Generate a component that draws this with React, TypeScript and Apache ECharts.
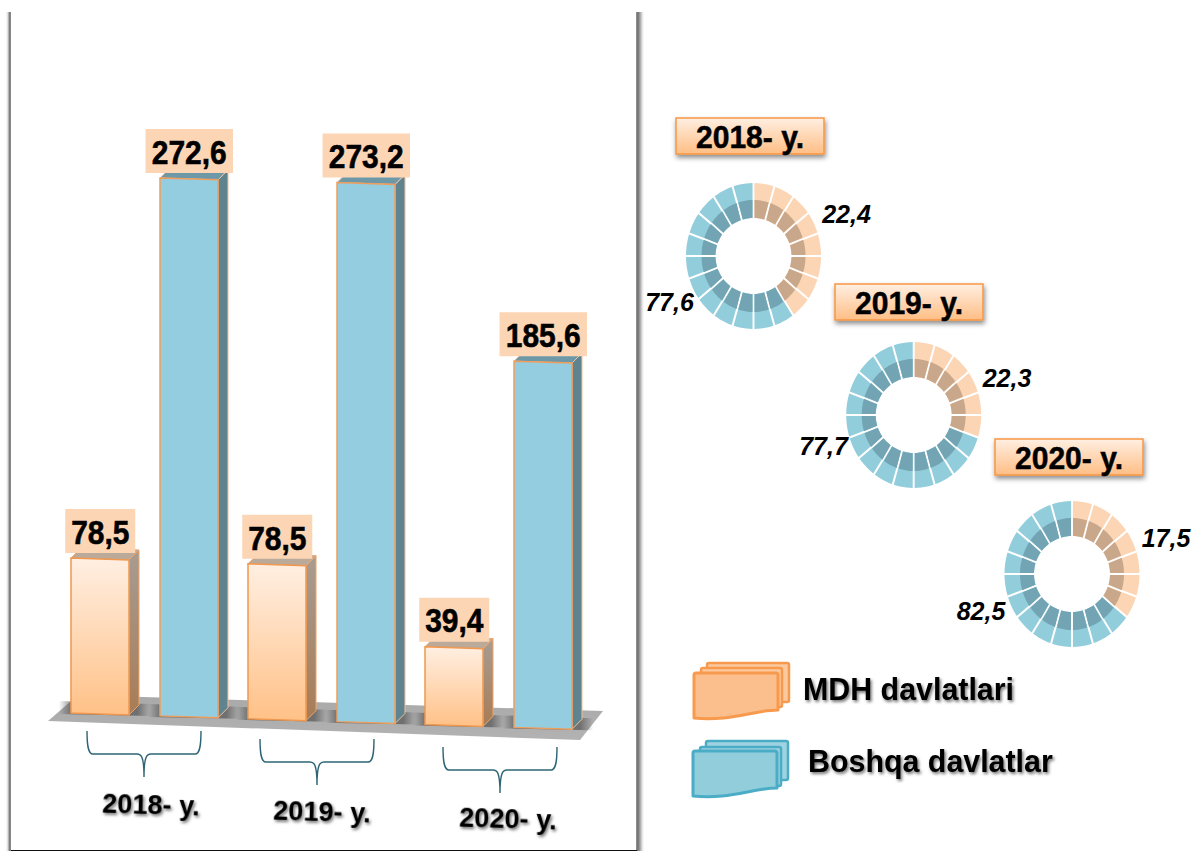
import React, { useEffect, useRef } from "react";
import * as echarts from "echarts";

const years = ["2018- y.", "2019- y.", "2020- y."];
const mdhName = "MDH davlatlari";
const otherName = "Boshqa davlatlar";
const mdhValues = [78.5, 78.5, 39.4];
const otherValues = [272.6, 273.2, 185.6];
const mdhShares = [22.4, 22.3, 17.5];
const otherShares = [77.6, 77.7, 82.5];
const mdhCells = [8, 6, 7];
const totalCells = 20;

const FONT = '"Liberation Sans", Arial, sans-serif';
const comma = (v: number) => v.toFixed(1).replace(".", ",");
const vGrad = (a: string, b: string) =>
  new echarts.graphic.LinearGradient(0, 0, 0, 1, [
    { offset: 0, color: a },
    { offset: 1, color: b },
  ]);
const hGrad = (stops: [number, string][]) =>
  new echarts.graphic.LinearGradient(
    0,
    0,
    1,
    0,
    stops.map(([offset, color]) => ({ offset, color }))
  );

echarts.graphic.registerShape(
  "docFront",
  echarts.graphic.extendPath("M2 0 H82 Q84 0 84 2 V37 C60 37 35 49 0 45 V2 Q0 0 2 0 Z" as any, {}) as any
);
echarts.graphic.registerShape(
  "bracket",
  echarts.graphic.extendPath(
    "M0 0 C0 14 1 23 6 23 H50 C54 23 57 25 57 46 C57 25 60 23 64 23 H108 C113 23 114 14 114 0" as any,
    {}
  ) as any
);

const BAR_W = 58;
const GROUP_OFFSET = 44.5;
const DEPTH = 10;
const SLOPE = 0.0325;
const BASE_X = 71;

const barStyles = {
  mdh: {
    front: () => vGrad("#FFEFE2", "#FFC187"),
    side: () => vGrad("#A89C92", "#A87C56"),
    top: "#BBAA9A",
    stroke: "#F0984F",
    sideStroke: "#EFA367",
  },
  other: {
    front: () => "#94CDDF",
    side: () => "#5F8490",
    top: "#6D98A8",
    stroke: "#EE9E5C",
    sideStroke: "#F0C09A",
  },
};

function bar3d(offset: number, style: typeof barStyles.mdh | typeof barStyles.other) {
  return (_params: any, api: any) => {
    const val = api.value(1);
    const [cx, y0] = api.coord([api.value(0), 0]);
    const [, yv] = api.coord([api.value(0), val]);
    const h = y0 - yv;
    const xl = cx + offset - BAR_W / 2;
    const xr = xl + BAR_W;
    const ybl = y0 + SLOPE * (xl - BASE_X);
    const ybr = y0 + SLOPE * (xr - BASE_X);
    const ytl = ybl - h;
    const ytr = ybr - h;
    const boxW = comma(val).length * 17.5;
    const boxH = 44;
    const boxCx = cx + offset + 0.25;
    const boxBottom = ytl - 5;
    return {
      type: "group",
      children: [
        {
          type: "polygon",
          shape: {
            points: [
              [xl - 12, ybl - 12],
              [xr + DEPTH + 11, ybr - 11],
              [xr + DEPTH + 11, ybr + 1],
              [xl - 12, ybl + 1],
            ],
          },
          style: {
            fill: hGrad([
              [0, "rgba(70,70,70,0)"],
              [0.14, "rgba(70,70,70,0.6)"],
              [0.86, "rgba(70,70,70,0.6)"],
              [1, "rgba(70,70,70,0)"],
            ]),
          },
        },
        {
          type: "polygon",
          shape: { points: [[xr, ytr], [xr + DEPTH, ytr - DEPTH], [xr + DEPTH, ybr - DEPTH], [xr, ybr]] },
          style: { fill: style.side(), stroke: style.sideStroke, lineWidth: 1 },
        },
        {
          type: "polygon",
          shape: { points: [[xl, ytl], [xl + DEPTH, ytl - DEPTH], [xr + DEPTH, ytr - DEPTH], [xr, ytr]] },
          style: { fill: style.top, stroke: style.sideStroke, lineWidth: 1 },
        },
        {
          type: "polygon",
          shape: { points: [[xl, ytl], [xr, ytr], [xr, ybr], [xl, ybl]] },
          style: { fill: style.front(), stroke: style.stroke, lineWidth: 1.5 },
        },
        {
          type: "rect",
          shape: { x: boxCx - boxW / 2, y: boxBottom - boxH, width: boxW, height: boxH },
          style: { fill: "#FCD5B5" },
        },
        {
          type: "text",
          x: boxCx,
          y: boxBottom - boxH / 2 + 1,
          scaleX: 0.88,
          style: {
            text: comma(val),
            font: `bold 34px ${FONT}`,
            fill: "#000",
            stroke: "#000",
            lineWidth: 0.6,
            align: "center",
            verticalAlign: "middle",
          },
        },
      ],
    };
  };
}

const donutCenters = [
  [753.5, 256],
  [913.7, 415],
  [1072, 574],
];
const R_IN: [number, number] = [38, 38];
const R_MID: [number, number] = [52, 56];
const R_OUT: [number, number] = [67.5, 73];
const HALF_GAP = 1;

function cellPolygon(cx: number, cy: number, inner: [number, number], outer: [number, number], t0: number, t1: number) {
  const pts: number[][] = [];
  const STEPS = 6;
  const arc = (r: [number, number], reverse: boolean) => {
    const d = HALF_GAP / ((r[0] + r[1]) / 2);
    for (let s = 0; s <= STEPS; s++) {
      const f = reverse ? 1 - s / STEPS : s / STEPS;
      const t = t0 + d + (t1 - t0 - 2 * d) * f;
      pts.push([cx + r[0] * Math.sin(t), cy - r[1] * Math.cos(t)]);
    }
  };
  arc(outer, false);
  arc(inner, true);
  return pts;
}

function donutSeries(i: number) {
  const [cx, cy] = donutCenters[i];
  return {
    type: "custom",
    coordinateSystem: "none",
    silent: true,
    z: 3,
    name: years[i],
    data: Array.from({ length: totalCells }, (_, k) => [k, k < mdhCells[i] ? 1 : 0]),
    renderItem: (_p: any, api: any) => {
      const k = api.value(0);
      const isMdh = api.value(1) === 1;
      const t0 = (k / totalCells) * Math.PI * 2;
      const t1 = ((k + 1) / totalCells) * Math.PI * 2;
      return {
        type: "group",
        children: [
          {
            type: "polygon",
            shape: { points: cellPolygon(cx, cy, R_IN, R_OUT, t0, t1) },
            style: { fill: isMdh ? "#FCD5B5" : "#92CDDC" },
          },
          {
            type: "polygon",
            shape: { points: cellPolygon(cx, cy, R_IN, R_MID, t0, t1) },
            style: { fill: isMdh ? "#C9A78B" : "#73A4B3" },
          },
        ],
      };
    },
  };
}

const shadowText = {
  textShadowColor: "rgba(0,0,0,0.55)",
  textShadowBlur: 3,
  textShadowOffsetX: 1.5,
  textShadowOffsetY: 2,
};

function buildGraphics() {
  const els: any[] = [];
  // frame
  els.push(
    { type: "rect", z: 0, shape: { x: 5, y: 12, width: 6, height: 839 }, style: { fill: hGrad([[0, "rgba(255,255,255,0)"], [0.5, "#d5d5d5"], [0.72, "#7d7d7d"], [1, "#8c8c8c"]]) } },
    { type: "rect", z: 0, shape: { x: 636, y: 12, width: 9, height: 839 }, style: { fill: hGrad([[0, "#9a9a9a"], [0.2, "#6f6f6f"], [0.45, "#a5a5a5"], [0.7, "#e4e4e4"], [1, "rgba(255,255,255,0)"]]) } },
    { type: "rect", z: 0, shape: { x: 11, y: 850, width: 626, height: 1 }, style: { fill: "#111" } }
  );
  // floor
  els.push(
    { type: "polygon", z: 0, shape: { points: [[48, 721], [78, 695], [603, 711], [580, 740]] }, style: { fill: vGrad("#a9a9a9", "#b2b2b2") } }
  );
  // brackets and year labels under the bars
  const brackets = [
    [87, 731],
    [260, 739],
    [443, 747],
  ];
  const yearLabels = [
    [151, 804],
    [322, 811],
    [508, 818],
  ];
  years.forEach((y, i) => {
    els.push({
      type: "bracket",
      z: 1,
      x: brackets[i][0],
      y: brackets[i][1],
      style: { fill: "none", stroke: "#2E6575", lineWidth: 1.4 },
    });
    els.push({
      type: "text",
      z: 6,
      x: yearLabels[i][0],
      y: yearLabels[i][1],
      rotation: -0.03,
      scaleX: 0.97,
      style: { text: y, font: `bold 28px ${FONT}`, fill: "#000", align: "center", verticalAlign: "middle", ...shadowText },
    });
  });
  // year boxes above donuts
  const boxes = [
    [676, 118, 36],
    [835, 284, 36],
    [995, 439, 36],
  ];
  years.forEach((y, i) => {
    const [bx, by, bh] = boxes[i];
    els.push({
      type: "rect",
      z: 6,
      shape: { x: bx, y: by, width: 148, height: bh },
      style: {
        fill: vGrad("#FFEFE2", "#FFBE85"),
        stroke: "#F79646",
        lineWidth: 1.5,
        shadowBlur: 5,
        shadowOffsetX: 1,
        shadowOffsetY: 3,
        shadowColor: "rgba(0,0,0,0.45)",
      },
    });
    els.push({
      type: "text",
      z: 7,
      x: bx + 74,
      y: by + bh / 2 + 1,
      scaleX: 0.94,
      style: { text: y, font: `bold 32px ${FONT}`, fill: "#000", align: "center", verticalAlign: "middle", stroke: "#000", lineWidth: 0.5 },
    });
  });
  // share labels
  const mdhPos = [
    [846.5, 214],
    [1007, 378],
    [1166, 538],
  ];
  const otherPos = [
    [669.5, 302],
    [823.5, 446],
    [981, 611],
  ];
  mdhShares.forEach((v, i) => {
    els.push({
      type: "text",
      z: 7,
      x: mdhPos[i][0],
      y: mdhPos[i][1],
      style: { text: comma(v), font: `italic bold 25px ${FONT}`, fill: "#000", align: "center", verticalAlign: "middle" },
    });
    els.push({
      type: "text",
      z: 7,
      x: otherPos[i][0],
      y: otherPos[i][1],
      style: { text: comma(otherShares[i]), font: `italic bold 25px ${FONT}`, fill: "#000", align: "center", verticalAlign: "middle" },
    });
  });
  // legend
  const doc = (x: number, y: number, fill: string, stroke: string, backFill: string, dy: number[]) => {
    els.push(
      { type: "rect", z: 6, shape: { x: x + 13, y: y + dy[0], width: 82, height: 39, r: 2 }, style: { fill: backFill, stroke, lineWidth: 2.5 } },
      { type: "rect", z: 6, shape: { x: x + 7, y: y + dy[1], width: 81, height: 39, r: 2 }, style: { fill: backFill, stroke, lineWidth: 2.5 } },
      { type: "docFront", z: 6, x, y: y + dy[2], style: { fill, stroke, lineWidth: 3, lineJoin: "round" } }
    );
  };
  doc(694, 662, "#FBBF8D", "#F79A4E", "#FBC99F", [1, 6, 11]);
  doc(693, 740, "#92CDDC", "#4BACC6", "#9FD3E1", [1, 7, 11]);
  els.push(
    {
      type: "text",
      z: 7,
      x: 803,
      y: 689,
      scaleX: 0.98,
      style: { text: mdhName, font: `bold 31px ${FONT}`, fill: "#000", align: "left", verticalAlign: "middle", ...shadowText },
    },
    {
      type: "text",
      z: 7,
      x: 808,
      y: 761,
      scaleX: 0.98,
      style: { text: otherName, font: `bold 31px ${FONT}`, fill: "#000", align: "left", verticalAlign: "middle", ...shadowText },
    }
  );
  return els;
}

export default function App() {
  const ref = useRef<HTMLDivElement>(null);
  useEffect(() => {
    document.body.style.margin = "0";
    const chart = echarts.init(ref.current!, undefined, { renderer: "svg" });
    chart.setOption({
      animation: false,
      backgroundColor: "#fff",
      grid: { left: 56, top: 121, width: 531, height: 592 },
      xAxis: { type: "category", data: years, show: false },
      yAxis: { type: "value", min: 0, max: 300, show: false },
      graphic: { elements: buildGraphics() },
      series: [
        {
          type: "custom",
          name: mdhName,
          z: 2,
          clip: false,
          silent: true,
          encode: { x: 0, y: 1 },
          data: mdhValues.map((v, i) => [i, v]),
          renderItem: bar3d(-GROUP_OFFSET, barStyles.mdh),
        },
        {
          type: "custom",
          name: otherName,
          z: 2,
          clip: false,
          silent: true,
          encode: { x: 0, y: 1 },
          data: otherValues.map((v, i) => [i, v]),
          renderItem: bar3d(GROUP_OFFSET, barStyles.other),
        },
        ...years.map((_, i) => donutSeries(i)),
      ],
    });
    return () => chart.dispose();
  }, []);
  return <div ref={ref} style={{ position: "absolute", left: 0, top: 0, width: 1194, height: 851 }} />;
}
